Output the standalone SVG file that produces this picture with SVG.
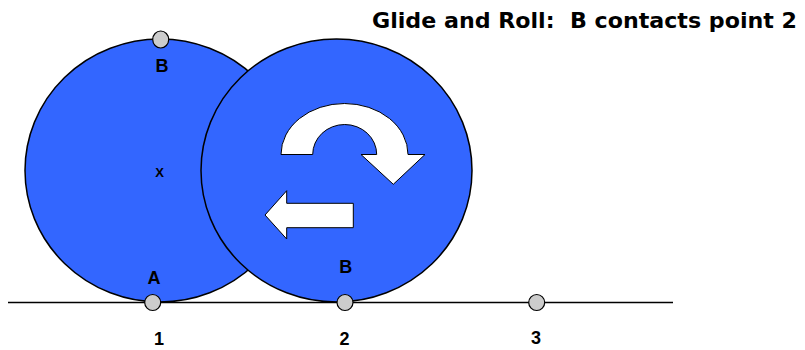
<svg xmlns="http://www.w3.org/2000/svg" width="805" height="350" viewBox="0 0 805 350">
<style>
.wheel{fill:#3366FF;stroke:#000;stroke-width:1.5}
.pt{fill:#CCCCCC;stroke:#000;stroke-width:1.2}
.arrow{fill:#FFFFFF;stroke:#000;stroke-width:1}
.lbl{font-family:"Liberation Sans",Arial,sans-serif;font-weight:bold;font-size:18px;text-anchor:middle;fill:#000}
.title{font-family:"DejaVu Sans Condensed","DejaVu Sans",sans-serif;font-weight:bold;font-size:22px;fill:#000;white-space:pre}
</style>
<rect width="805" height="350" fill="#FFFFFF"/>
<g id="wheel-start">
<ellipse class="wheel" cx="160" cy="170.5" rx="135" ry="131.5"/>
<text class="lbl" x="162" y="71.5">B</text>
<text class="lbl" x="159.5" y="176.7" style="font-size:13px">X</text>
<text class="lbl" x="154" y="284">A</text>
</g>
<g id="wheel-end">
<ellipse class="wheel" cx="336.5" cy="170.5" rx="135.5" ry="131.5"/>
<path class="arrow" d="M281,154.5 A63.5,51 0 0 1 408,154.5 L425,154.5 L393.3,184.3 L361,154.5 L376.7,154.5 A32,30 0 0 0 312.7,154.5 Z"/>
<path class="arrow" d="M353.3,203.3 L286.7,203.3 L286.7,190.7 L265,215 L286.7,239 L286.7,227.7 L353.3,227.7 Z"/>
<text class="lbl" x="345.8" y="272.7">B</text>
</g>
<g id="connectors">
<line x1="8" y1="302.5" x2="673" y2="302.5" stroke="#000" stroke-width="1.5"/>
</g>
<g id="point-top">
<ellipse class="pt" cx="160.7" cy="39.5" rx="8" ry="8.5"/>
</g>
<g id="point-1">
<circle class="pt" cx="152.7" cy="302.5" r="8"/>
<text class="lbl" x="159" y="345">1</text>
</g>
<g id="point-2">
<circle class="pt" cx="345" cy="302.5" r="8"/>
<text class="lbl" x="344.5" y="345">2</text>
</g>
<g id="point-3">
<circle class="pt" cx="536.7" cy="302.5" r="8"/>
<text class="lbl" x="536" y="344">3</text>
</g>
<g id="title">
<text class="title" x="372" y="28" textLength="425" lengthAdjust="spacingAndGlyphs" xml:space="preserve">Glide and Roll:  B contacts point 2</text>
</g>
</svg>
